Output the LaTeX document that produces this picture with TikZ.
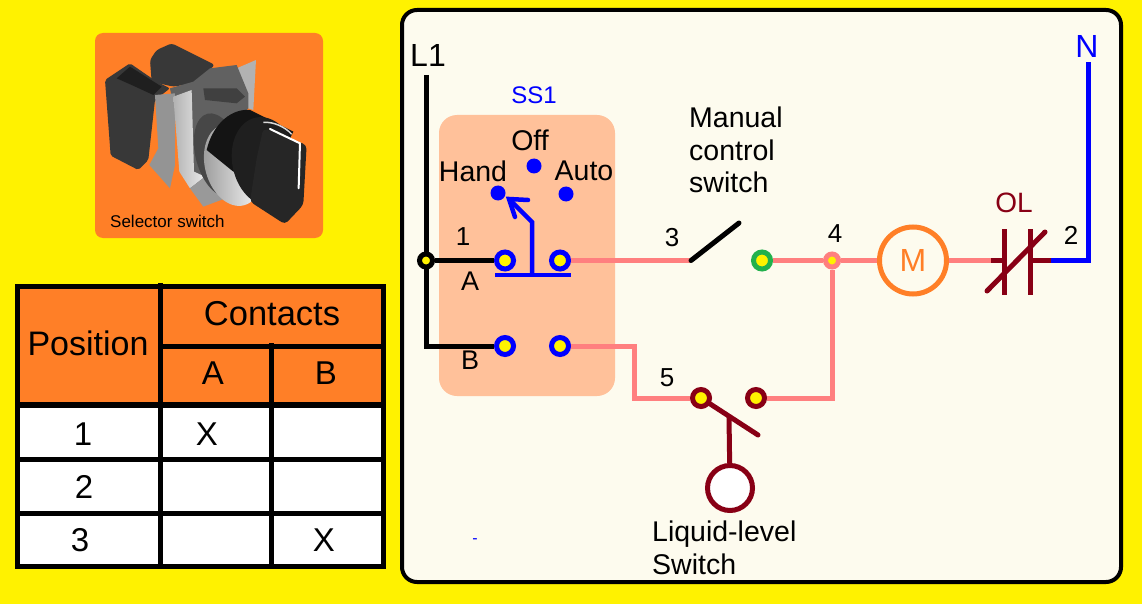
\documentclass[tikz,border=0pt]{standalone}
\usepackage{fontspec}
\setmainfont{Liberation Sans}
\definecolor{bgyellow}{HTML}{FFF200}
\definecolor{panelcream}{HTML}{FDFBEE}
\definecolor{swarancio}{HTML}{FF7F27}
\definecolor{peach}{HTML}{FFC19A}
\definecolor{wirepink}{HTML}{FF7F7F}
\definecolor{darkred}{HTML}{880015}
\definecolor{okgreen}{HTML}{22B14C}
\definecolor{puyellow}{HTML}{FFF200}
\tikzset{
  txt/.style={inner sep=0pt,font=\fontsize{#1}{#1}\selectfont},
  txt/.default=28.5,
  terminal/.style={circle,draw=#1,line width=5pt,fill=puyellow,minimum size=17pt,inner sep=0pt},
  junct/.style={circle,draw=#1,line width=5pt,fill=puyellow,minimum size=13pt,inner sep=0pt},
  posdot/.style={circle,fill=blue,minimum size=15pt,inner sep=0pt},
  wire/.style={line width=5pt,draw=#1},
  tableline/.style={line width=5pt,draw=black}
}
\begin{document}
\begin{tikzpicture}[x=1pt,y=-1pt]
  \useasboundingbox (0,0) rectangle (1142,604);
  \fill[bgyellow] (0,0) rectangle (1142,604);
  \draw[line width=4pt,fill=panelcream,rounded corners=15pt] (402,10) rectangle (1121,582);
  \fill[peach,rounded corners=18pt] (439,115) rectangle (615,396);
  \fill[swarancio,rounded corners=8pt] (95,33) rectangle (323,238);
  % photo of the selector
  \begin{scope}[shift={(90,25)},x=.3333pt,y=-.3333pt]
    \fill[black!78,rounded corners=3pt] (180,105) -- (200,75) -- (245,55) -- (375,120) -- (345,145) -- (310,175) -- (250,185) -- (185,170) -- cycle;
    \fill[black!30] (440,130) -- (498,105) -- (490,255) -- (445,240) -- cycle;
    \fill[black!62] (240,190) -- (310,170) -- (360,130) -- (440,120) -- (475,205) -- (475,250) -- (420,300) -- (350,500) -- (300,490) -- cycle;
    \fill[black!75] (340,190) -- (440,190) -- (465,215) -- (440,235) -- (345,225) -- cycle;
    \fill[black!78,rounded corners=2pt] (45,165) -- (120,115) -- (200,170) -- (240,190) -- (195,225) -- (175,405) -- (145,435) -- (62,392) -- cycle;
    \fill[black!88] (80,160) -- (120,125) -- (215,185) -- (190,210) -- (125,180) -- cycle;
    \fill[black!42] (195,210) -- (255,205) -- (255,420) -- (240,490) -- (178,420) -- (205,370) -- cycle;
    \shade[left color=black!30,right color=black!8] (250,215) -- (305,195) -- (312,440) -- (345,455) -- (300,490) -- (268,440) -- cycle;
    \fill[black!40] (300,490) -- (345,455) -- (420,515) -- (340,545) -- cycle;
    \fill[black!72,rotate around={15:(385,390)}] (385,390) ellipse (68 and 128);
    \shade[left color=black!40,right color=white,rotate around={15:(430,420)}] (430,420) ellipse (85 and 125);
    \fill[black!92] (350,375) .. controls (370,290) and (430,250) .. (480,255) -- (610,320) -- (560,420) -- (430,440) -- cycle;
    \fill[black!88,rotate around={12:(525,410)}] (525,410) ellipse (98 and 135);
    \draw[black!15,line width=1.5pt] (520,292) .. controls (550,290) and (585,305) .. (605,328);
    \fill[black!85,rounded corners=4pt] (520,310) -- (650,360) -- (640,540) -- (585,598) -- (480,530) -- (500,400) -- cycle;
    \draw[white,line width=2pt,line cap=round] (540,312) -- (630,355) -- (626,490);
  \end{scope}
  \node[txt=17,anchor=west] (caption) at (110,221) {Selector switch};
  % table
  \fill[swarancio] (17,286) rectangle (383,405);
  \fill[white] (17,405) rectangle (383,566);
  \draw[tableline] (17,286) rectangle (383,566);
  \foreach \xa/\ya/\xb/\yb in {158/346/383/346,17/459/383/459,17/513/383/513,160/283/160/566,271/343/271/566}
    \draw[tableline] (\xa,\ya) -- (\xb,\yb);
  \draw[tableline,line width=6pt] (17,405) -- (383,405);
  \node[txt=34] (tpos) at (88,343) {Position};
  \node[txt=34.5] (tcon) at (272,314) {Contacts};
  \node[txt=33] (tA) at (213,373) {A};
  \node[txt=33] (tB) at (326,373) {B};
  \node[txt=33] (t1) at (83,434) {1};
  \node[txt=33] (t2) at (84,487) {2};
  \node[txt=33] (t3) at (80,540) {3};
  \node[txt=33] (x1) at (207,434) {X};
  \node[txt=33] (x3) at (324,540) {X};
  % circuit nodes
  \coordinate (l1top) at (426,75);
  \coordinate (l1bot) at (426,346);
  \node[terminal=blue] (a1) at (505,260.5) {};
  \node[terminal=blue] (a2) at (560,260.5) {};
  \node[terminal=blue] (b1) at (505,346) {};
  \node[terminal=blue] (b2) at (560,346) {};
  \draw[wire=black] (l1top) -- (l1bot) -- (b1);
  \node[junct=black] (jA) at (426,260.5) {};
  \node[posdot] (hand) at (498,193) {};
  \node[posdot] (off) at (534,166) {};
  \node[posdot] (auto) at (566,194) {};
  \coordinate (barL) at (495,275);
  \coordinate (barM) at (532,275);
  \coordinate (barR) at (571,275);
  \coordinate (elbow) at (532,222);
  \coordinate (tip) at (509,199);
  \coordinate (tipR) at (528,200);
  \coordinate (tipD) at (515,217);
  \coordinate (pc1) at (691,260.5);
  \coordinate (pc2) at (739,223);
  \node[terminal=okgreen] (g1) at (762,260.5) {};
  \node[junct=wirepink] (j4) at (832,260.5) {};
  \node[circle,draw=swarancio,line width=5pt,fill=panelcream,minimum size=67pt,inner sep=0pt,text=swarancio,font=\fontsize{32}{32}\selectfont] (motor) at (913,260.5) {M};
  \coordinate (olL) at (1004,260.5);
  \coordinate (olR) at (1030,260.5);
  \coordinate (olin) at (991,260.5);
  \coordinate (olout) at (1051,260.5);
  \coordinate (ncorner) at (1088,260.5);
  \coordinate (ntop) at (1088,62);
  \node[terminal=darkred] (ls1) at (701,398) {};
  \node[terminal=darkred] (ls2) at (756,398) {};
  \coordinate (lsc1) at (634,346);
  \coordinate (lsc2) at (634,398);
  \coordinate (lsc3) at (832,398);
  \coordinate (blade) at (758,435);
  \coordinate (stem) at (729,417);
  \node[circle,draw=darkred,line width=5pt,fill=white,minimum size=45pt,inner sep=0pt] (float) at (730,488) {};
  % wires
  \draw[wire=black] (jA) -- (a1);
  \foreach \from/\to in {a2/pc1,g1/j4,j4/motor,motor/olin}
    \draw[wire=wirepink] (\from) -- (\to);
  \draw[wire=wirepink] (b2) -- (lsc1) -- (lsc2) -- (ls1);
  \draw[wire=wirepink] (ls2) -- (lsc3) -- (j4);
  \draw[wire=black,line cap=round] (pc1) -- (pc2);
  \draw[wire=blue] (olout) -- (ncorner) -- (ntop);
  \foreach \from/\to in {olin/olL,olR/olout,stem/float}
    \draw[wire=darkred] (\from) -- (\to);
  \draw[wire=darkred,line cap=round] (ls1) -- (blade);
  \draw[wire=darkred] (1004,229) -- (1004,295) (1030,229) -- (1030,295);
  \draw[wire=darkred,line cap=round] (987,291) -- (1045,232);
  % switch blade
  \draw[wire=blue,line width=4.5pt] (barL) -- (barR);
  \draw[wire=blue,line width=4.5pt] (barM) -- (elbow) -- (tip);
  \draw[wire=blue,line width=4.5pt,line cap=round] (tipR) -- (tip) -- (tipD);
  % labels
  \node[txt=32] (l1) at (428,55) {L1};
  \node[txt=32,text=blue] (n) at (1087,46) {N};
  \node[txt=24,text=blue] (ss1) at (534,95) {SS1};
  \node[txt] (loff) at (530,140) {Off};
  \node[txt] (lhand) at (473,171) {Hand};
  \node[txt] (lauto) at (584,171) {Auto};
  \node[txt=26] (n1) at (463,237) {1};
  \node[txt=27] (la) at (470,281) {A};
  \node[txt=27] (lb) at (470,360) {B};
  \node[txt=26] (n3) at (672,238) {3};
  \node[txt=26] (n4) at (835,234) {4};
  \node[txt=26] (n5) at (667,378) {5};
  \node[txt=26] (n2) at (1071,235) {2};
  \node[txt=28,text=darkred] (ol) at (1014,203) {OL};
  \node[txt,anchor=west,align=left,font=\fontsize{28.5}{32.5}\selectfont] (manual) at (689,150) {Manual\\control\\switch};
  \node[txt,anchor=west,align=left,font=\fontsize{28.5}{33}\selectfont] (liquid) at (652,548) {Liquid-level\\Switch};
  \node[txt=16,text=blue] (dash) at (475,541) {-};
\end{tikzpicture}
\end{document}
